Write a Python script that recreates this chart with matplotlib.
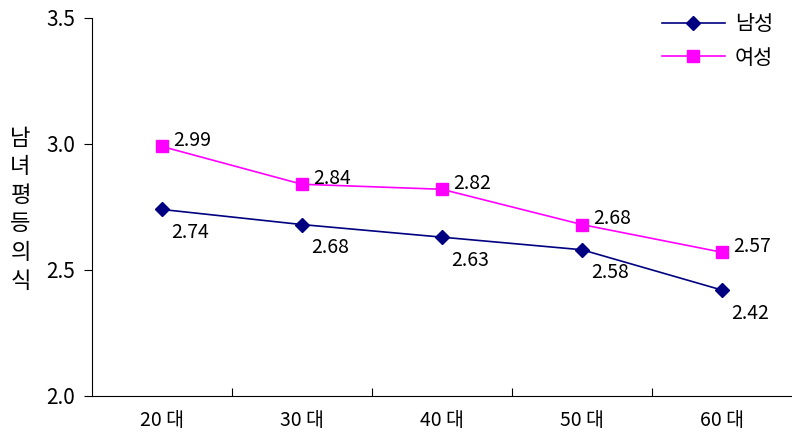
import matplotlib
matplotlib.use("Agg")
import matplotlib.pyplot as plt

plt.rcParams['font.family'] = ['Noto Sans CJK KR', 'DejaVu Sans']

# 연령대별 남녀평등의식 평균
ages = ['20 대', '30 대', '40 대', '50 대', '60 대']
male = [2.74, 2.68, 2.63, 2.58, 2.42]
female = [2.99, 2.84, 2.82, 2.68, 2.57]
ylabel = '남녀평등의식'

fig = plt.figure(figsize=(7.92, 4.37), dpi=100)
ax = fig.add_axes([0.116, 0.094, 0.884, 0.865])

x = list(range(len(ages)))
ax.plot(x, male, color='#000080', marker='D', markersize=7, linewidth=1.2, label='남성')
ax.plot(x, female, color='#FF00FF', marker='s', markersize=9, linewidth=1.2, label='여성')

for i, v in enumerate(male):
    ax.annotate(f'{v:.2f}', (i, v), xytext=(9, -23), textcoords='offset pixels',
                ha='left', va='center', fontsize=14)
for i, v in enumerate(female):
    ax.annotate(f'{v:.2f}', (i, v), xytext=(11, 6), textcoords='offset pixels',
                ha='left', va='center', fontsize=14)

ax.set_xlim(-0.5, len(ages) - 0.5)
ax.set_ylim(2.0, 3.5)
ax.set_yticks([2.0, 2.5, 3.0, 3.5])
ax.set_yticklabels(['2.0', '2.5', '3.0', '3.5'], fontsize=15)
ax.set_xticks(x)
ax.set_xticklabels(ages, fontsize=14)
ax.tick_params(axis='x', length=0, pad=10)
ax.set_xticks([i + 0.5 for i in x[:-1]], minor=True)
ax.tick_params(axis='x', which='minor', direction='in', length=6, width=0.8)
ax.tick_params(axis='y', direction='out', length=6, width=0.8, pad=6)

for side in ['top', 'right']:
    ax.spines[side].set_visible(False)
for side in ['left', 'bottom']:
    ax.spines[side].set_linewidth(0.8)

# 세로 축 제목: 한 글자씩 세로로 쌓기
for k, ch in enumerate(ylabel):
    fig.text(0.026, 0.684 - k * 0.0655, ch, fontsize=16, ha='center', va='center')

ax.legend(loc='upper right', bbox_to_anchor=(1.0, 1.062), frameon=False, fontsize=15,
          handlelength=3.0, labelspacing=0.55, handletextpad=0.5)

fig.savefig('out.png', dpi=100)
